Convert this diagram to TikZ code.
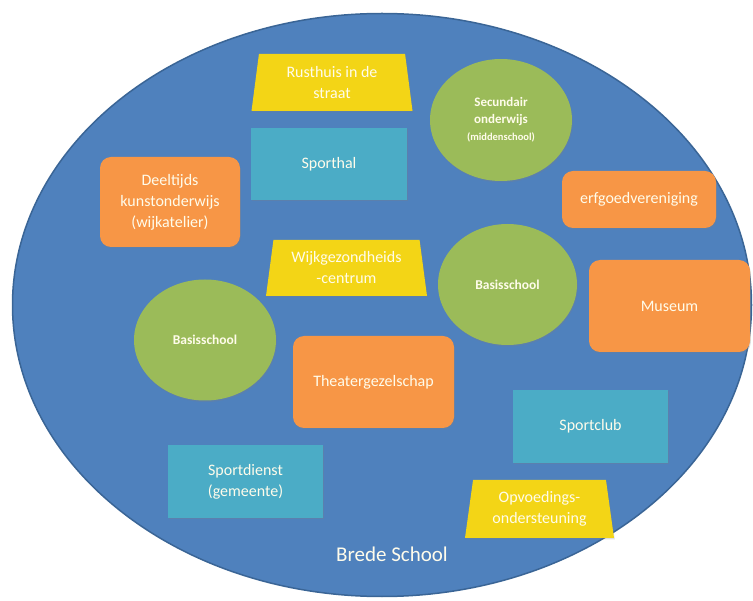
\documentclass[tikz,border=0pt]{standalone}
\usepackage{fontspec}
\setmainfont{Carlito}
\usetikzlibrary{shapes.geometric,shadows}
\definecolor{bgblue}{HTML}{4F81BD}
\definecolor{bgedge}{HTML}{3A6596}
\definecolor{tealbox}{HTML}{4BACC6}
\definecolor{orng}{HTML}{F79646}
\definecolor{grn}{HTML}{9BBB59}
\definecolor{ylw}{HTML}{F3D516}
\definecolor{txt}{HTML}{FFFCEB}
\tikzset{
  base/.style={text=txt, align=center, inner sep=0pt, outer sep=0pt,
    drop shadow={opacity=0.25, shadow xshift=0.8pt, shadow yshift=-1.5pt}},
  tealrect/.style={base, rectangle, fill=tealbox, font=\fontsize{16}{21}\selectfont},
  orngrect/.style={base, rectangle, rounded corners=11pt, fill=orng, font=\fontsize{16}{21}\selectfont},
  grncirc/.style={base, ellipse, fill=grn, font=\bfseries\fontsize{13.5}{17}\selectfont},
  ylwtrap/.style={base, trapezium, trapezium stretches body, trapezium angle=77,
    fill=ylw, font=\fontsize{16}{21}\selectfont},
}
\begin{document}
\begin{tikzpicture}[x=1pt,y=-1pt]
\useasboundingbox (0,0) rectangle (753,601);
\node[ellipse, fill=bgblue, draw=bgedge, line width=1.5pt, minimum width=739pt, minimum height=583pt, inner sep=0pt] (brede) at (382,305) {};

\node[ylwtrap, minimum width=161pt, minimum height=57pt] (rusthuis) at (332,82.5) {Rusthuis in de\\straat};
\node[tealrect, minimum width=156pt, minimum height=72pt] (sporthal) at (329,164) {Sporthal};
\node[grncirc, minimum width=142pt, minimum height=122pt, font=\bfseries\fontsize{13}{17}\selectfont] (secundair) at (501,120)
  {Secundair\\onderwijs\\{\fontsize{10.5}{13}\selectfont (middenschool)}};
\node[orngrect, minimum width=154pt, minimum height=57pt] (erfgoed) at (639,199.5) {erfgoedvereniging};
\node[orngrect, minimum width=140pt, minimum height=90pt] (deeltijds) at (170,202) {Deeltijds\\kunstonderwijs\\(wijkatelier)};
\node[ylwtrap, minimum width=161pt, minimum height=56pt] (wijk) at (346.5,268) {Wijkgezondheids\\-centrum};
\node[grncirc, minimum width=139pt, minimum height=121pt] (basisB) at (507.5,284.5) {Basisschool};
\node[orngrect, minimum width=161pt, minimum height=92pt] (museum) at (669.5,306) {Museum};
\node[grncirc, minimum width=142pt, minimum height=121pt] (basisA) at (205,340) {Basisschool};
\node[orngrect, minimum width=161pt, minimum height=92pt] (theater) at (373.5,382) {Theatergezelschap};
\node[tealrect, minimum width=155pt, minimum height=73pt] (sportclub) at (590.5,426.5) {Sportclub};
\node[tealrect, minimum width=155pt, minimum height=73pt] (sportdienst) at (245.5,481.5) {Sportdienst\\(gemeente)};
\node[ylwtrap, minimum width=149pt, minimum height=58pt] (opvoeding) at (539.5,509) {Opvoedings-\\ondersteuning};
\node[text=txt, font=\fontsize{21}{24}\selectfont, inner sep=0pt] (label) at (392,554) {Brede School};
\end{tikzpicture}
\end{document}
